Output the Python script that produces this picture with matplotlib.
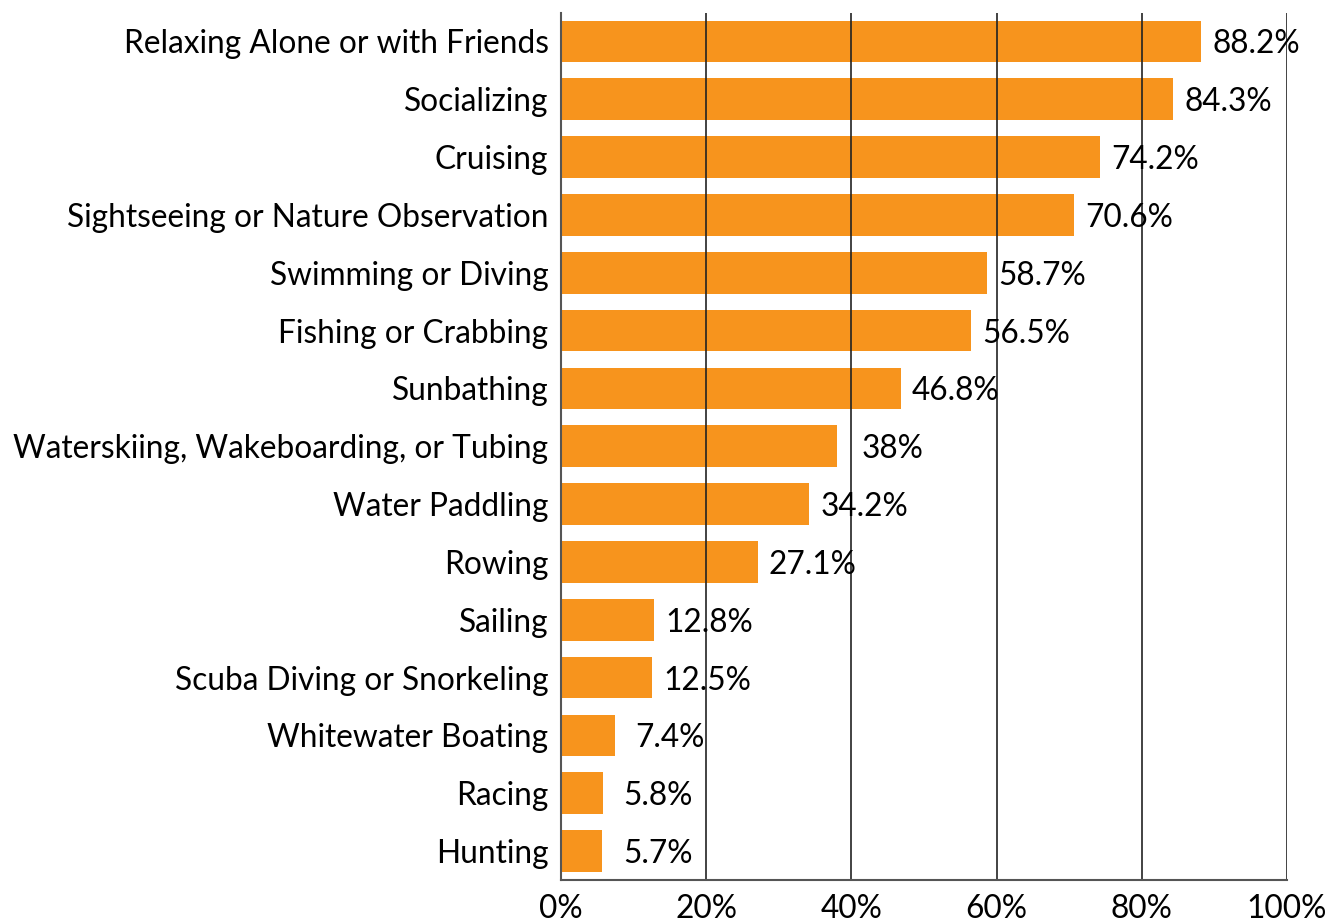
import matplotlib
matplotlib.use("Agg")
import matplotlib.pyplot as plt

categories = [
    "Relaxing Alone or with Friends",
    "Socializing",
    "Cruising",
    "Sightseeing or Nature Observation",
    "Swimming or Diving",
    "Fishing or Crabbing",
    "Sunbathing",
    "Waterskiing, Wakeboarding, or Tubing",
    "Water Paddling",
    "Rowing",
    "Sailing",
    "Scuba Diving or Snorkeling",
    "Whitewater Boating",
    "Racing",
    "Hunting",
]
values = [88.2, 84.3, 74.2, 70.6, 58.7, 56.5, 46.8, 38.0, 34.2, 27.1, 12.8, 12.5, 7.4, 5.8, 5.7]
value_labels = ["88.2%", "84.3%", "74.2%", "70.6%", "58.7%", "56.5%", "46.8%", "38%",
                "34.2%", "27.1%", "12.8%", "12.5%", "7.4%", "5.8%", "5.7%"]
xticks = [0, 20, 40, 60, 80, 100]
xtick_labels = ["0%", "20%", "40%", "60%", "80%", "100%"]

plt.rcParams['font.family'] = ['Lato', 'DejaVu Sans']
FS = 22.8

fig = plt.figure(figsize=(13.3, 9.22), dpi=100)
ax = fig.add_axes([561/1330, 1-880/922, (1287-561)/1330, (880-13)/922])

y = list(range(len(categories)))
ax.barh(y, values, height=0.72, color="#F7941D", zorder=1)
ax.set_ylim(14.5, -0.49)
ax.set_xlim(0, 100)
ax.set_xticks(xticks)
ax.set_xticklabels(xtick_labels, fontsize=FS)
ax.set_yticks(y)
ax.set_yticklabels(categories, fontsize=FS, va="center_baseline")
ax.tick_params(axis='both', length=0)
ax.tick_params(axis='y', pad=9)
ax.tick_params(axis='x', pad=10)
for xv in xticks[1:]:
    ax.axvline(xv, color="#222222", lw=1.2, zorder=2)
for s in ["top", "right"]:
    ax.spines[s].set_visible(False)
ax.spines["left"].set_color("#555555")
ax.spines["left"].set_linewidth(1.5)
ax.spines["bottom"].set_color("#555555")
ax.spines["bottom"].set_linewidth(1.5)
ax.spines["left"].set_zorder(3)

for yi, v, lab in zip(y, values, value_labels):
    ax.text(v + 7.6, yi, lab, va="center_baseline", ha="center", fontsize=FS, zorder=4)

fig.savefig("out.png", dpi=100)
